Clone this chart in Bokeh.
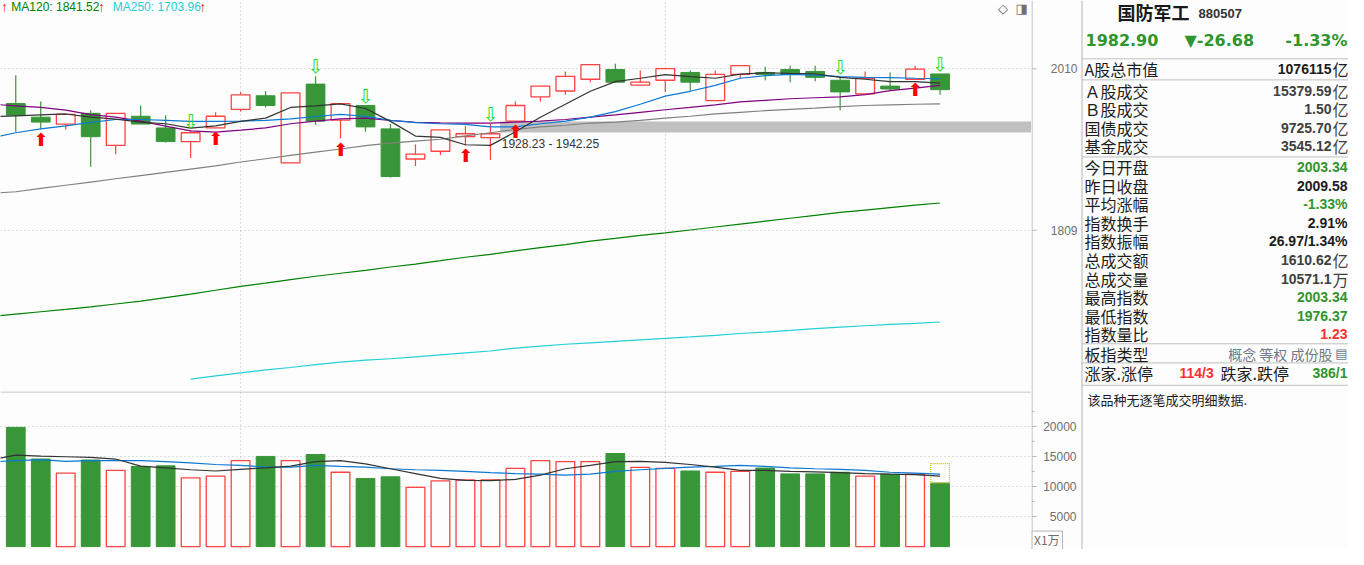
import math
from bokeh.plotting import figure
from bokeh.models import Range1d, FixedTicker, Span, Label
from bokeh.layouts import row, column
from bokeh.embed import file_html
from bokeh.resources import INLINE
from bokeh.core.properties import value

# ---------------- data ----------------
candle_idx = list(range(1, 39))
open_px = [1965.0, 1947.6, 1938.9, 1952.5, 1912.1, 1948.8, 1934.0, 1916.9, 1934.0, 1957.5,
           1975.0, 1890.3, 1990.1, 1943.9, 1962.5, 1932.8, 1895.2, 1904.8, 1923.0, 1921.8,
           1942.6, 1973.7, 1981.2, 1996.4, 2009.1, 1988.8, 1995.1, 2005.3, 1968.7, 2002.7,
           2005.3, 2009.1, 2006.6, 1995.1, 1977.5, 1987.5, 1996.4, 2003.34]
high_px = [2001.5, 1967.5, 1951.3, 1956.3, 1952.5, 1962.5, 1950.1, 1930.4, 1953.8, 1980.0,
           1981.2, 1978.7, 2000.2, 1965.0, 1962.5, 1938.9, 1913.3, 1931.6, 1936.5, 1938.9,
           1967.5, 1987.5, 2006.6, 2015.5, 2016.8, 2007.8, 2010.4, 2007.8, 2007.8, 2014.2,
           2012.9, 2014.2, 2014.2, 1998.9, 2006.6, 2005.3, 2014.2, 2003.34]
low_px = [1929.1, 1932.8, 1931.6, 1885.6, 1901.2, 1938.9, 1915.7, 1896.4, 1934.0, 1955.0,
          1960.0, 1890.3, 1937.7, 1920.6, 1929.1, 1872.4, 1886.7, 1900.0, 1912.1, 1894.0,
          1942.6, 1967.5, 1976.2, 1992.6, 1992.6, 1988.8, 1980.0, 1981.2, 1968.7, 1997.7,
          1995.1, 1992.6, 1993.9, 1956.3, 1977.5, 1981.2, 1996.4, 1976.37]
close_px = [1950.1, 1941.4, 1951.3, 1923.0, 1952.5, 1938.9, 1916.9, 1927.9, 1948.8, 1976.2,
            1962.5, 1978.7, 1942.6, 1965.0, 1935.3, 1873.6, 1901.2, 1931.6, 1926.7, 1926.7,
            1962.5, 1987.5, 2000.2, 2015.5, 1992.6, 1992.6, 2010.4, 1992.6, 2002.7, 2014.2,
            2002.7, 2002.7, 1998.9, 1980.0, 1997.7, 1983.8, 2009.58, 1982.90]
volume = [19840, 14570, 12210, 14410, 12690, 13330, 13440, 11450, 11720, 14300,
          15000, 14300, 15320, 12370, 11340, 11610, 9840, 10920, 11080, 11080,
          13010, 14300, 14140, 14140, 15490, 13170, 13010, 12580, 12370, 12530,
          13070, 12100, 12100, 12370, 11720, 12040, 12040, 10571.1]
vol_forecast = 13820

ma_idx = list(range(0, 39))
ma5 = [1948.2, 1949.4, 1950.6, 1951.7, 1947.6, 1945.1, 1941.4, 1939.3, 1933.7, 1936.5,
       1942.3, 1946.4, 1960.0, 1962.1, 1964.6, 1958.7, 1942.3, 1923.8, 1922.1, 1912.9,
       1912.1, 1929.1, 1947.6, 1964.1, 1980.8, 1993.4, 1997.7, 2002.4, 1999.8, 1997.7,
       2003.1, 2004.9, 2004.0, 2003.6, 1998.9, 1996.4, 1993.4, 1993.4, 1991.3]
ma10 = [1921.4, 1927.9, 1932.8, 1936.5, 1941.0, 1944.7, 1944.7, 1943.5, 1942.3, 1942.3,
        1942.6, 1943.5, 1945.5, 1948.5, 1951.3, 1948.8, 1943.5, 1940.8, 1939.3, 1938.5,
        1935.3, 1935.3, 1939.3, 1942.6, 1947.6, 1954.7, 1964.1, 1974.6, 1980.8, 1988.4,
        1997.7, 2001.1, 2002.7, 2001.8, 1999.8, 1998.9, 1998.6, 1997.7, 1997.3]
ma20 = [1964.3, 1962.1, 1960.0, 1956.6, 1950.9, 1947.6, 1942.6, 1936.2, 1930.4, 1928.7,
        1931.2, 1934.0, 1939.3, 1942.6, 1945.5, 1946.4, 1943.5, 1941.2, 1940.5, 1940.2,
        1940.2, 1941.4, 1942.6, 1944.7, 1947.6, 1950.5, 1953.8, 1957.1, 1960.0, 1963.3,
        1967.1, 1969.1, 1971.2, 1972.5, 1973.7, 1976.6, 1981.6, 1985.0, 1988.4]
ma60 = [1853.2, 1855.1, 1859.1, 1863.0, 1866.9, 1870.9, 1874.8, 1878.8, 1882.8, 1886.7,
        1891.5, 1895.5, 1899.6, 1903.6, 1907.6, 1911.7, 1914.9, 1917.3, 1919.8, 1923.9,
        1927.9, 1932.0, 1935.3, 1937.4, 1940.2, 1941.4, 1943.5, 1946.4, 1948.8, 1951.7,
        1953.8, 1955.9, 1957.5, 1959.1, 1961.2, 1962.5, 1963.3, 1964.1, 1964.6]
ma120 = [1710.0, 1712.7, 1715.4, 1718.1, 1720.9, 1724.1, 1727.4, 1731.3, 1735.2, 1739.6,
         1744.0, 1747.8, 1751.7, 1755.6, 1759.0, 1762.3, 1766.2, 1769.6, 1773.5, 1777.5,
         1780.9, 1784.8, 1788.8, 1792.2, 1796.2, 1799.6, 1803.1, 1805.9, 1809.4, 1812.9,
         1816.3, 1819.8, 1823.3, 1826.8, 1830.2, 1833.1, 1836.0, 1838.9, 1841.52]
NA = float("nan")
ma250 = [NA, NA, NA, NA, NA, NA, NA, NA, 1641.6, 1645.1,
         1648.3, 1651.5, 1654.1, 1657.3, 1659.9, 1662.0, 1663.6, 1665.7, 1667.8, 1669.9,
         1672.0, 1675.2, 1677.3, 1679.4, 1681.0, 1682.6, 1684.2, 1685.8, 1687.4, 1689.2,
         1691.2, 1692.8, 1694.6, 1696.5, 1698.2, 1699.8, 1701.4, 1702.5, 1703.96]
vol_ma5 = [14440, 15210, 15050, 14950, 14840, 14570, 13390, 13110, 12790, 12580,
           12860, 13110, 13390, 14150, 14310, 13760, 12950, 12150, 11340, 11020,
           10970, 11180, 11890, 12950, 13500, 14150, 14190, 14030, 13660, 13230,
           12690, 12690, 12530, 12420, 12310, 12150, 12050, 11980, 11730]
vol_ma10 = [14070, 14310, 14470, 14190, 14310, 14310, 14310, 14150, 13920, 13660,
            13500, 13230, 13230, 13500, 13340, 13230, 12950, 12790, 12690, 12530,
            12310, 12150, 12050, 11890, 12050, 12530, 12790, 13020, 13230, 13340,
            13500, 13340, 13110, 12950, 12860, 12690, 12370, 12210, 12050]

buy_idx = [2, 9, 14, 19, 21, 37]
sell_idx = [8, 13, 15, 20, 34, 38]
month_idx = [10, 27]
band_low, band_high = 1928.23, 1942.25
band_start = 20
price_ticks = [1809, 2010]
price_tick_labels = ["1809", "2010"]
vol_ticks = [5000, 10000, 15000, 20000]
vol_tick_labels = ["5000", "10000", "15000", "20000"]
vol_minor = [2500, 7500, 12500, 17500, 22500]
vol_unit_label = "X1万"
legend_texts = ["MA120: 1841.52", "MA250: 1703.96"]

title_name = "国防军工"
title_code = "880507"
last_price = "1982.90"
last_change = "▼-26.68"
last_pct = "-1.33%"
block1_labels = ["A股总市值"]
block1_values = ["1076115"]
block1_units = ["亿"]
block2_labels = ["Ａ股成交", "Ｂ股成交", "国债成交", "基金成交"]
block2_values = ["15379.59", "1.50", "9725.70", "3545.12"]
block2_units = ["亿", "亿", "亿", "亿"]
block3_labels = ["今日开盘", "昨日收盘", "平均涨幅", "指数换手", "指数振幅",
                 "总成交额", "总成交量", "最高指数", "最低指数", "指数量比"]
block3_values = ["2003.34", "2009.58", "-1.33%", "2.91%", "26.97/1.34%",
                 "1610.62", "10571.1", "2003.34", "1976.37", "1.23"]
block3_units = ["", "", "", "", "", "亿", "万", "", "", ""]
block3_kind = ["down", "flat", "down", "flat", "flat", "gray", "gray", "down", "down", "up"]
board_label = "板指类型"
board_tags = "概念 等权 成份股"
adv_label, adv_value = "涨家.涨停", "114/3"
dec_label, dec_value = "跌家.跌停", "386/1"
footer_text = "该品种无逐笔成交明细数据."

# ---------------- styling ----------------
BG = "#fdfdfd"
GREEN = "#389638"
RED = "#ff4242"
GRID = "#bcbcbc"
AXIS = "#b4b4b4"
TICK_TXT = "#6e6e6e"
TXT_GREEN = "#2f952f"
TXT_RED = "#ff3030"
TXT_DARK = "#1c1c1c"
TXT_GRAY = "#404040"

W_FRAME = 1031
H_MAIN = 391
H_VOL = 158
H_ALL = H_MAIN + H_VOL
PANEL_W = 1348 - W_FRAME          # panel covers the axis strip + info panel
SX = W_FRAME / 1047.0
SY = H_MAIN / 402.0
BODY_W = 0.75
LAB_FONT = "Liberation Sans"

PR0, PR1 = 1628.4, 2101.7
V0, V1 = -484, 25808

x_rng = Range1d(0.389, 41.66)

# ---------------- main price figure ----------------
main = figure(width=W_FRAME, height=H_MAIN, x_range=x_rng,
              y_range=Range1d(PR0, PR1), y_axis_type="log",
              y_axis_location=None, x_axis_location=None,
              output_backend="svg", toolbar_location=None, min_border=0,
              background_fill_color=BG, border_fill_color=BG, outline_line_color=None)
main.ygrid.ticker = FixedTicker(ticks=price_ticks)
main.ygrid.grid_line_color = GRID
main.ygrid.grid_line_dash = "1 3"
main.xgrid.ticker = FixedTicker(ticks=month_idx)
main.xgrid.grid_line_color = GRID
main.xgrid.grid_line_dash = "1 3"

# support band
main.quad(left=[band_start + BODY_W / 2 + 0.01], right=[x_rng.end + 1],
          bottom=[band_low], top=[band_high], fill_color="#c0c0c0", line_color=None)

# candles
up = [i for i in range(len(candle_idx)) if close_px[i] >= open_px[i]]
dn = [i for i in range(len(candle_idx)) if close_px[i] < open_px[i]]

main.segment(x0=[candle_idx[i] for i in dn], x1=[candle_idx[i] for i in dn],
             y0=[high_px[i] for i in dn], y1=[low_px[i] for i in dn],
             line_color=GREEN, line_width=1.2)
main.vbar(x=[candle_idx[i] for i in dn], width=BODY_W,
          top=[open_px[i] for i in dn], bottom=[close_px[i] for i in dn],
          fill_color=GREEN, line_color=GREEN)
ux0, uy0, uy1 = [], [], []
for i in up:
    if high_px[i] > close_px[i]:
        ux0.append(candle_idx[i]); uy0.append(high_px[i]); uy1.append(close_px[i])
    if low_px[i] < open_px[i]:
        ux0.append(candle_idx[i]); uy0.append(open_px[i]); uy1.append(low_px[i])
main.segment(x0=ux0, x1=ux0, y0=uy0, y1=uy1, line_color=RED, line_width=1.2)
main.vbar(x=[candle_idx[i] for i in up], width=BODY_W,
          top=[close_px[i] for i in up], bottom=[open_px[i] for i in up],
          fill_color=BG, line_color=RED, line_width=1.3)

# moving averages
main.line(ma_idx, ma60, line_color="#808080", line_width=1.2)
main.line(ma_idx, ma20, line_color="#800080", line_width=1.2)
main.line(ma_idx, ma10, line_color="#0a78d4", line_width=1.2)
main.line(ma_idx, ma5, line_color="#333333", line_width=1.2)
main.line(ma_idx, ma120, line_color="#008000", line_width=1.2)
main.line(ma_idx, ma250, line_color="#22d0d8", line_width=1.2)

# signal arrows
main.text(x=buy_idx, y=[low_px[i - 1] for i in buy_idx], text=["⬆"] * len(buy_idx),
          text_color="#ff0000", text_font=value("DejaVu Sans"), text_font_size="18px",
          text_align="center", text_baseline="top", y_offset=0)
main.text(x=sell_idx, y=[high_px[i - 1] for i in sell_idx], text=["⇩"] * len(sell_idx),
          text_color="#22dd22", text_font=value("DejaVu Sans"), text_font_size="19px",
          text_align="center", text_baseline="bottom", y_offset=1)

# band label
main.text(x=[band_start + BODY_W / 2 + 0.08], y=[band_low],
          text=["%.2f - %.2f" % (band_low, band_high)],
          text_color="#333333", text_font=value(LAB_FONT), text_font_size="12px",
          text_align="left", text_baseline="top", y_offset=4)

def top_label(fig, x_ref, text, color, size="12px", font=LAB_FONT, y_ref=7, align="left"):
    fig.add_layout(Label(x=x_ref * SX, y=H_MAIN - y_ref * SY, x_units="screen", y_units="screen",
                         text=text, text_color=color, text_font=font, text_font_size=size,
                         text_align=align, text_baseline="middle"))

top_label(main, 4, "↑", "#ff2020", size="14px", align="center")
top_label(main, 11, legend_texts[0], "#008000")
top_label(main, 102.5, "↑", "#ff2020", size="14px", align="center")
top_label(main, 114, legend_texts[1], "#22cfd6")
top_label(main, 205.5, "↑", "#ff2020", size="14px", align="center")
top_label(main, 1018, "◇", "#555555", size="13px", font="DejaVu Sans", y_ref=8, align="center")
top_label(main, 1037, "◨", "#707070", size="13px", font="DejaVu Sans", y_ref=8, align="center")

# ---------------- volume figure ----------------
vol = figure(width=W_FRAME, height=H_VOL, x_range=x_rng,
             y_range=Range1d(V0, V1), y_axis_location=None, x_axis_location=None,
             output_backend="svg", toolbar_location=None, min_border=0,
             background_fill_color=BG, border_fill_color=BG, outline_line_color=None)
vol.ygrid.ticker = FixedTicker(ticks=vol_ticks)
vol.ygrid.grid_line_color = GRID
vol.ygrid.grid_line_dash = "1 3"
vol.xgrid.ticker = FixedTicker(ticks=month_idx)
vol.xgrid.grid_line_color = GRID
vol.xgrid.grid_line_dash = "1 3"
vol.add_layout(Span(location=V1 - 80, dimension="width", line_color=AXIS, line_width=1))

vol.vbar(x=[candle_idx[i] for i in dn], width=BODY_W, top=[volume[i] for i in dn], bottom=0,
         fill_color=GREEN, line_color=GREEN)
vol.vbar(x=[candle_idx[i] for i in up], width=BODY_W, top=[volume[i] for i in up], bottom=0,
         fill_color=BG, line_color=RED, line_width=1.3)
vol.vbar(x=[candle_idx[-1]], width=BODY_W, top=[vol_forecast], bottom=[volume[-1]],
         fill_color=None, line_color="#c8c000", line_dash="1 1", line_width=1.2)
vol.line(ma_idx, vol_ma10, line_color="#0a78d4", line_width=1.2)
vol.line(ma_idx, vol_ma5, line_color="#333333", line_width=1.2)

# ---------------- right strip: axes + information panel ----------------
panel = figure(width=PANEL_W, height=H_ALL, x_range=Range1d(1047, 1364), y_range=Range1d(565, 0),
               x_axis_location=None, y_axis_location=None,
               output_backend="svg", toolbar_location=None, min_border=0,
               background_fill_color=BG, border_fill_color=BG, outline_line_color=None)
panel.grid.visible = False

PY = 565.0 / H_ALL

def price_to_y(p):
    return H_MAIN * (math.log(PR1) - math.log(p)) / (math.log(PR1) - math.log(PR0)) * PY

def vol_to_y(v):
    return (H_MAIN + H_VOL * (V1 - v) / (V1 - V0)) * PY

# axis lines
panel.segment(x0=[1047.5, 1097.5], x1=[1047.5, 1097.5], y0=[0, 0], y1=[565, 565], line_color=AXIS)
# price axis ticks + labels
pty = [price_to_y(p) for p in price_ticks]
panel.segment(x0=[1047] * len(pty), x1=[1052] * len(pty), y0=pty, y1=pty, line_color=AXIS)
panel.text(x=[1093] * len(pty), y=pty, text=price_tick_labels, text_color=TICK_TXT,
           text_font=value(LAB_FONT), text_font_size="12px", text_align="right", text_baseline="middle")
# volume axis ticks + labels
vty = [vol_to_y(v) for v in vol_ticks]
vmy = [vol_to_y(v) for v in vol_minor]
panel.segment(x0=[1047] * len(vty), x1=[1052] * len(vty), y0=vty, y1=vty, line_color=AXIS)
panel.segment(x0=[1047] * len(vmy), x1=[1050] * len(vmy), y0=vmy, y1=vmy, line_color=AXIS)
panel.text(x=[1092] * len(vty), y=vty, text=vol_tick_labels, text_color=TICK_TXT,
           text_font=value(LAB_FONT), text_font_size="12px", text_align="right", text_baseline="middle")
# unit box
panel.quad(left=[1047.5], right=[1078], top=[546], bottom=[566], fill_color=BG, line_color=AXIS)
panel.text(x=[1049.5], y=[555], text=[vol_unit_label], text_color=TICK_TXT,
           text_font=value("Noto Sans CJK SC"), text_font_size="12px", text_align="left",
           text_baseline="middle")

CJK = "Noto Sans CJK SC"
NUMF = "Liberation Sans"
LINE_C = "#c0c0c0"

sep_y = [60, 81.7, 161, 353.3, 373, 396]
panel.segment(x0=[1097] * len(sep_y), x1=[1364] * len(sep_y), y0=sep_y, y1=sep_y, line_color=LINE_C)

def ptext(xs, ys, texts, color, size, font, align="left", style="normal"):
    panel.text(x=xs, y=ys, text=texts, text_color=color, text_font_size=size,
               text_font=value(font), text_align=align, text_baseline="middle",
               text_font_style=style)

ptext([1133], [11.5], [title_name], "#1a1a1a", "18px", CJK, style="bold")
ptext([1214], [13.5], [title_code], "#333333", "13px", NUMF, style="bold")
ptext([1101], [41], [last_price], TXT_GREEN, "16px", "DejaVu Sans", style="bold")
ptext([1200], [41], [last_change], TXT_GREEN, "16px", "DejaVu Sans", style="bold")
ptext([1363], [41], [last_pct], TXT_GREEN, "16px", "DejaVu Sans", align="right", style="bold")

def value_rows(labels, values, units, ys, colors):
    ptext([1100] * len(labels), ys, labels, TXT_DARK, "16px", CJK)
    for lab, val, unit, y, c in zip(labels, values, units, ys, colors):
        if unit:
            ptext([1347], [y], [val], c, "14px", NUMF, align="right", style="bold")
            ptext([1364], [y], [unit], c, "16px", CJK, align="right")
        else:
            ptext([1363], [y], [val], c, "14px", NUMF, align="right", style="bold")

value_rows(block1_labels, block1_values, block1_units, [70.7], [TXT_DARK])
value_rows(block2_labels, block2_values, block2_units,
           [92.7 + 19.1 * k for k in range(len(block2_labels))], [TXT_GRAY] * len(block2_labels))
kind_color = {"down": TXT_GREEN, "up": TXT_RED, "flat": TXT_DARK, "gray": TXT_GRAY}
value_rows(block3_labels, block3_values, block3_units,
           [171.7 + 19.07 * k for k in range(len(block3_labels))],
           [kind_color[k] for k in block3_kind])

ptext([1100], [363.3], [board_label], TXT_DARK, "16px", CJK)
ptext([1348], [363.3], [board_tags], "#6f7a86", "14px", CJK, align="right")
ptext([1363], [363.3], ["▤"], "#6f7a86", "13px", "DejaVu Sans", align="right")

ptext([1100], [383], [adv_label], TXT_DARK, "16px", CJK)
ptext([1195], [383], [adv_value], TXT_RED, "14px", NUMF, style="bold")
ptext([1236], [383], [dec_label], TXT_DARK, "16px", CJK)
ptext([1363], [383], [dec_value], TXT_GREEN, "14px", NUMF, align="right", style="bold")

ptext([1103], [411], [footer_text], TXT_DARK, "13px", CJK)

layout = row(column(main, vol, spacing=0), panel, spacing=0)
open("out.html", "w").write(file_html(layout, INLINE))
